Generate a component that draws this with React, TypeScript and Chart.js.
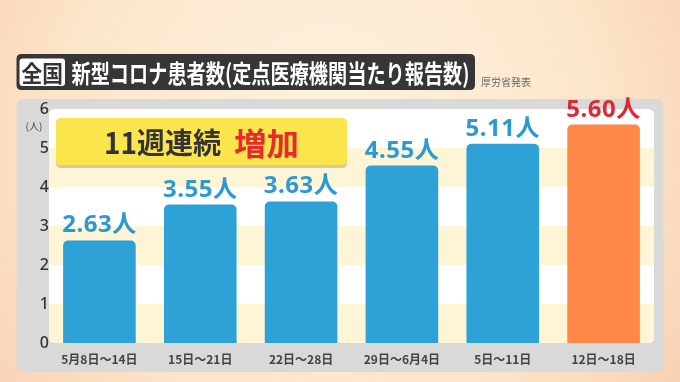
import React, { useEffect, useRef } from "react";
import { Chart, registerables } from "chart.js";

Chart.register(...registerables);

const categories = ["5月8日〜14日", "15日〜21日", "22日〜28日", "29日〜6月4日", "5日〜11日", "12日〜18日"];
const values = [2.63, 3.55, 3.63, 4.55, 5.11, 5.6];
const valueLabels = ["2.63人", "3.55人", "3.63人", "4.55人", "5.11人", "5.60人"];
const barColors = ["#2ea2d6", "#2ea2d6", "#2ea2d6", "#2ea2d6", "#2ea2d6", "#ff8748"];
const labelColors = ["#2a9ad3", "#2a9ad3", "#2a9ad3", "#2a9ad3", "#2a9ad3", "#dd2a30"];
const yTicks = [0, 1, 2, 3, 4, 5, 6];
const titleText = "新型コロナ患者数(定点医療機関当たり報告数)";
const badgeText = "全国";
const sourceText = "厚労省発表";
const calloutMain = "11週連続";
const calloutAccent = "増加";
const yUnit = "(人)";

const JP = '"Noto Sans CJK JP", "Noto Sans", sans-serif';
const NUM = '"Noto Sans", "Noto Sans CJK JP", sans-serif';

function rr(ctx: CanvasRenderingContext2D, x: number, y: number, w: number, h: number, r: number) {
  ctx.beginPath();
  ctx.moveTo(x + r, y);
  ctx.lineTo(x + w - r, y);
  ctx.quadraticCurveTo(x + w, y, x + w, y + r);
  ctx.lineTo(x + w, y + h - r);
  ctx.quadraticCurveTo(x + w, y + h, x + w - r, y + h);
  ctx.lineTo(x + r, y + h);
  ctx.quadraticCurveTo(x, y + h, x, y + h - r);
  ctx.lineTo(x, y + r);
  ctx.quadraticCurveTo(x, y, x + r, y);
  ctx.closePath();
}

function fitText(ctx: CanvasRenderingContext2D, text: string, x: number, y: number, width: number) {
  const m = ctx.measureText(text).width;
  const s = width / m;
  ctx.save();
  ctx.translate(x, y);
  ctx.scale(s, 1);
  ctx.fillText(text, 0, 0);
  ctx.restore();
}

const decorPlugin = {
  id: "decor",
  beforeDraw(chart: any) {
    const ctx = chart.ctx as CanvasRenderingContext2D;
    const W = chart.width;
    const H = chart.height;
    ctx.save();
    const g = ctx.createRadialGradient(330, 120, 40, 330, 160, 460);
    g.addColorStop(0, "#fdf0dc");
    g.addColorStop(0.55, "#fce6cb");
    g.addColorStop(1, "#f8cbae");
    ctx.fillStyle = g;
    ctx.fillRect(0, 0, W, H);

    // title box
    ctx.fillStyle = "#363636";
    rr(ctx, 16.5, 54, 458.5, 36, 5);
    ctx.fill();
    ctx.fillStyle = "#ffffff";
    rr(ctx, 19.5, 58.5, 45.5, 27.5, 3);
    ctx.fill();
    ctx.fillStyle = "#333333";
    ctx.font = `bold 23px ${JP}`;
    ctx.textBaseline = "middle";
    ctx.textAlign = "left";
    fitText(ctx, badgeText, 21.5, 73, 41.5);
    ctx.fillStyle = "#ffffff";
    ctx.font = `bold 25px ${JP}`;
    fitText(ctx, titleText, 71.5, 73, 398);
    ctx.fillStyle = "#666666";
    ctx.font = `10px ${JP}`;
    ctx.fillText(sourceText, 481, 82);

    // gray panel
    ctx.fillStyle = "#d9d9d9";
    rr(ctx, 16.5, 99, 647, 273, 8);
    ctx.fill();

    // plot area white + bands
    const ca = chart.chartArea;
    const y = chart.scales.y;
    ctx.save();
    rr(ctx, ca.left, ca.top, ca.right - ca.left, ca.bottom - ca.top, 6);
    ctx.fillStyle = "#ffffff";
    ctx.fill();
    ctx.clip();
    ctx.fillStyle = "#fdf5d6";
    for (let v = 0; v < 6; v += 2) {
      const y0 = y.getPixelForValue(v);
      const y1 = y.getPixelForValue(v + 1);
      ctx.fillRect(ca.left, y1, ca.right - ca.left, y0 - y1);
    }
    ctx.restore();

    // unit label
    ctx.fillStyle = "#444444";
    ctx.font = `10px ${JP}`;
    ctx.textAlign = "center";
    ctx.textBaseline = "middle";
    ctx.fillText(yUnit, 34, 126);
    ctx.restore();
  },
  afterDatasetsDraw(chart: any) {
    const ctx = chart.ctx as CanvasRenderingContext2D;
    const meta = chart.getDatasetMeta(0);
    ctx.save();
    ctx.textAlign = "center";
    ctx.textBaseline = "alphabetic";
    ctx.font = `bold 24px ${NUM}`;
    (ctx as any).letterSpacing = "0.5px";
    meta.data.forEach((bar: any, i: number) => {
      ctx.fillStyle = labelColors[i];
      ctx.fillText(valueLabels[i], bar.x, bar.y - 8);
    });
    (ctx as any).letterSpacing = "0px";

    // callout
    ctx.fillStyle = "rgba(150,120,40,0.35)";
    rr(ctx, 56, 120, 291, 48, 5);
    ctx.fill();
    ctx.fillStyle = "#fbe54d";
    rr(ctx, 56, 118, 291, 47, 5);
    ctx.fill();
    ctx.textAlign = "left";
    ctx.textBaseline = "middle";
    ctx.fillStyle = "#333333";
    ctx.font = `bold 29px ${JP}`;
    fitText(ctx, calloutMain, 104, 143, 117);
    ctx.fillStyle = "#e52b2b";
    ctx.font = `bold 31px ${JP}`;
    fitText(ctx, calloutAccent, 234, 143, 65);
    ctx.restore();
  },
};

export default function App() {
  const ref = useRef<HTMLCanvasElement>(null);
  useEffect(() => {
    document.body.style.margin = "0";
    const chart = new Chart(ref.current!, {
      type: "bar",
      data: {
        labels: categories,
        datasets: [
          {
            data: values,
            backgroundColor: barColors,
            borderRadius: { topLeft: 5, topRight: 5, bottomLeft: 0, bottomRight: 0 },
            borderSkipped: false,
            barPercentage: 0.72,
            categoryPercentage: 1,
          },
        ],
      },
      options: {
        responsive: false,
        animation: false,
        layout: { padding: { left: 18, right: 26, top: 109, bottom: 10 } },
        plugins: { legend: { display: false }, tooltip: { enabled: false } },
        scales: {
          x: {
            grid: { display: false, drawTicks: false },
            border: { display: false },
            ticks: { color: "#444444", font: { family: JP, size: 12, weight: "bold" }, padding: 9, maxRotation: 0 },
            afterFit: (s: any) => { s.height = 29; },
          },
          y: {
            min: 0,
            max: 6,
            afterBuildTicks: (s: any) => { s.ticks = yTicks.map((v) => ({ value: v })); },
            grid: { display: false, drawTicks: false },
            border: { display: false },
            ticks: { color: "#333333", font: { family: NUM, size: 16, weight: "500" }, padding: 0, crossAlign: "center" },
            afterFit: (s: any) => { s.width = 31; },
          },
        },
      },
      plugins: [decorPlugin],
    });
    return () => chart.destroy();
  }, []);
  return <canvas ref={ref} width={680} height={382} style={{ display: "block" }} />;
}
